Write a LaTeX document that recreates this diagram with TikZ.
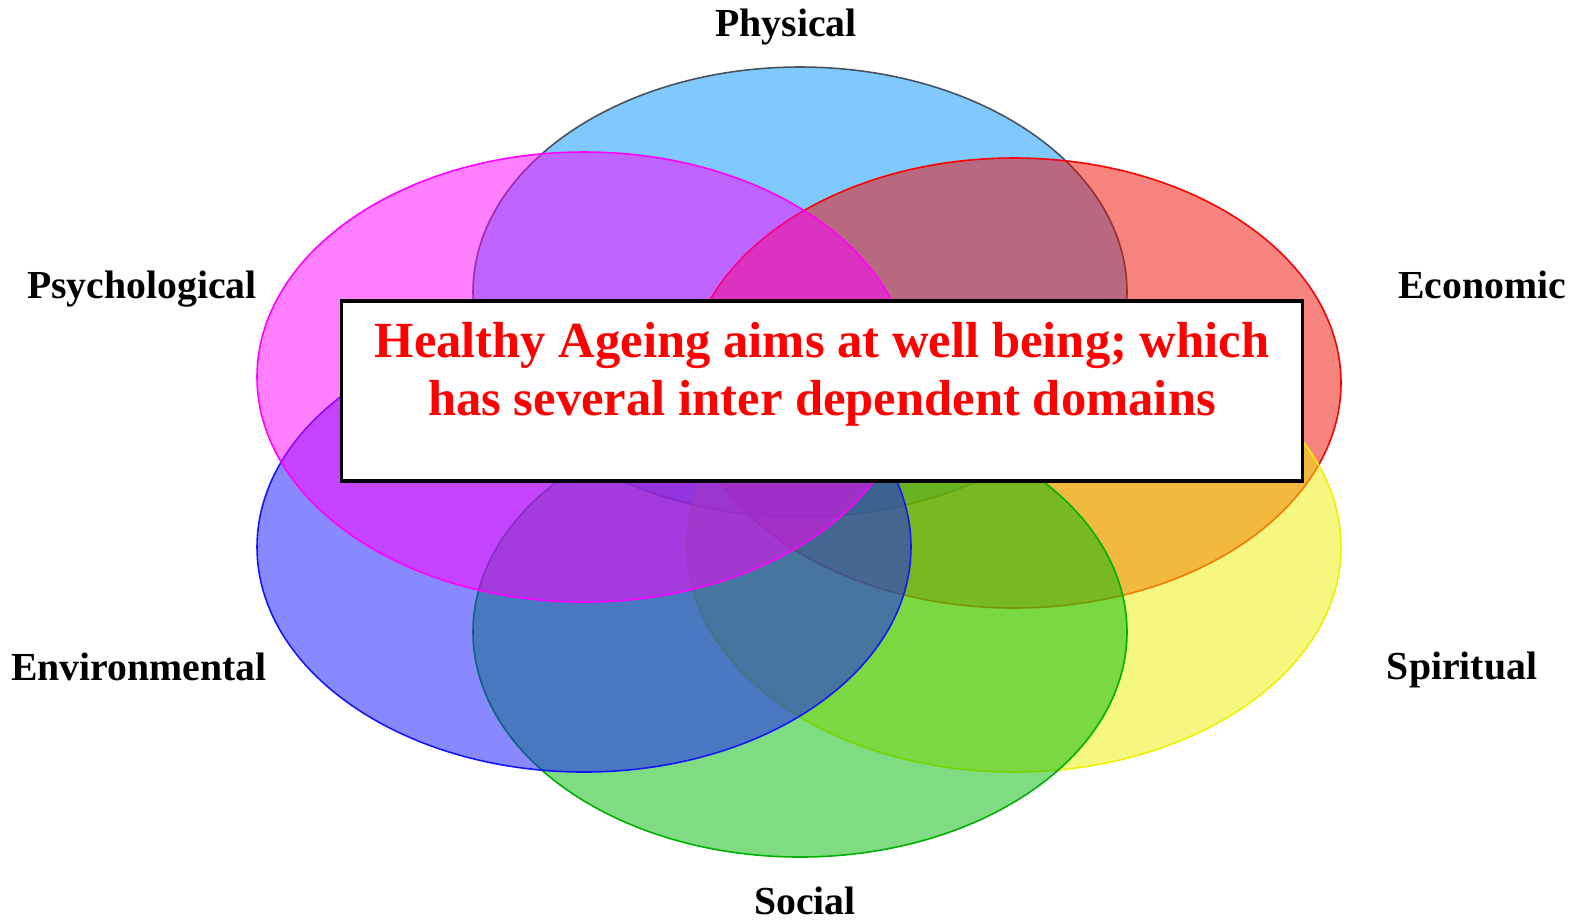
\documentclass[tikz,border=0pt]{standalone}
\usepackage{fontspec}
\setmainfont{Liberation Serif}
\usetikzlibrary{positioning}

\definecolor{physfill}{RGB}{0,147,255}
\definecolor{physline}{RGB}{70,82,92}
\definecolor{psychfill}{RGB}{255,0,255}
\definecolor{econfill}{RGB}{242,10,0}
\definecolor{econline}{RGB}{250,0,0}
\definecolor{envfill}{RGB}{20,20,255}
\definecolor{spirfill}{RGB}{235,240,0}
\definecolor{spirline}{RGB}{238,240,0}
\definecolor{socfill}{RGB}{0,185,5}
\definecolor{socline}{RGB}{0,176,0}

\begin{document}
\begin{tikzpicture}[x=0.01cm, y=-0.01cm,
    wellbeing/.style={line width=0.45pt, fill opacity=0.5},
    lab/.style={anchor=base, font=\fontsize{11.3}{13.5}\selectfont\bfseries}]
    \useasboundingbox (0,0) rectangle (1582,923);

    % Radii of every domain ellipse
    \def\rx{327}
    \def\ry{225}

    % Draw the six domains, the upper ones first
    \foreach \cx/\cy/\fc/\lc in {800/292/physfill/physline, 1014/383/econfill/econline,
        1014/547/spirfill/spirline, 800/632/socfill/socline,
        584/547/envfill/envfill, 584/377/psychfill/psychfill}
      \draw[wellbeing, draw=\lc, fill=\fc] (\cx,\cy) ellipse ({\rx} and {\ry});

    % Box with the statement
    \node (box) [draw, line width=0.9pt, fill=white, inner sep=0pt,
      minimum width=9.6cm, minimum height=1.8cm] at (822,391) {};
    \node (aim) [align=center, text=red, font=\fontsize{14.4}{16.6}\selectfont\bfseries]
      at (822,374) {Healthy Ageing aims at well being; which\\has several inter dependent domains};

    % Domain names
    \node (physical) [lab] at (786,36) {Physical};
    \node (psychological) [lab] at (142,298) {Psychological};
    \node (economic) [lab] at (1482,298) {Economic};
    \node (environmental) [lab] at (139,680) {Environmental};
    \node (spiritual) [lab] at (1462,679) {Spiritual};
    \node (social) [lab] at (805,914) {Social};
\end{tikzpicture}
\end{document}
